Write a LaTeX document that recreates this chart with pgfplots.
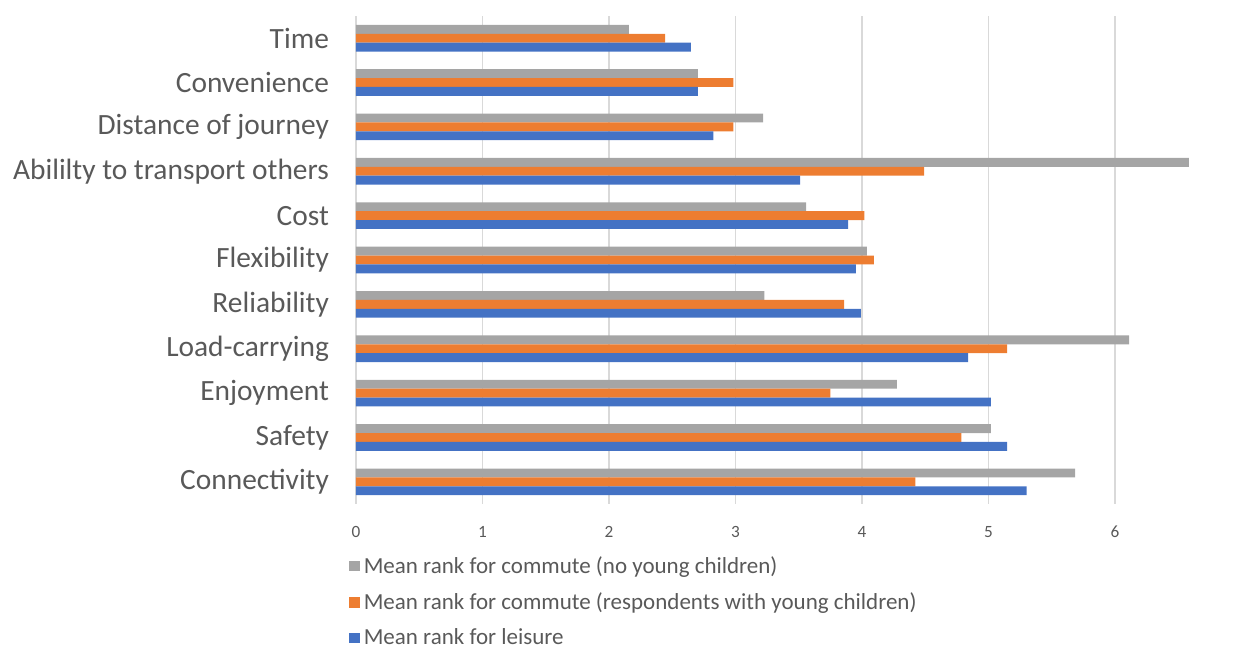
\documentclass[border=0pt]{standalone}
\usepackage{pgfplots}
\pgfplotsset{compat=1.18}
\usepackage{fontspec}
\setmainfont{Carlito}
\definecolor{cgray}{HTML}{A5A5A5}
\definecolor{corange}{HTML}{ED7D31}
\definecolor{cblue}{HTML}{4472C4}
\definecolor{cgrid}{HTML}{D9D9D9}
\definecolor{ctext}{HTML}{595959}
\begin{document}
\begin{tikzpicture}
\path[use as bounding box] (0,0) rectangle (618.5pt,325pt);
\begin{axis}[
  at={(178pt,73pt)}, anchor=south west,
  scale only axis,
  width=437pt, height=244pt,
  xbar, bar width=0.2,
  y dir=reverse,
  xmin=0, xmax=6.91,
  ymin=-0.5, ymax=10.5,
  xtick={0,1,2,3,4,5,6},
  ytick={0,...,10},
  yticklabels={Time,Convenience,Distance of journey,Abililty to transport others,Cost,Flexibility,Reliability,Load-carrying,Enjoyment,Safety,Connectivity},
  axis line style={draw=none},
  xmajorgrids, grid style={cgrid, line width=0.8pt},
  major tick length=0pt,
  tick style={draw=none},
  /pgf/number format/assume math mode=true,
  xticklabel style={font=\fontsize{8.6}{10}\selectfont, text=ctext, yshift=-7.5pt},
  yticklabel style={font=\fontsize{14.7}{17}\selectfont, text=ctext, xshift=-10pt},
  legend cell align=left,
  legend style={at={(axis description cs:-0.008,-0.098)}, anchor=north west, draw=none, fill=none,
    font=\fontsize{11.5}{13}\selectfont, text=ctext, row sep=4.2pt, inner sep=0pt,
    /tikz/every odd column/.style={inner xsep=0pt}, /tikz/every even column/.style={inner xsep=1.2pt}},
  legend image code/.code={\fill[#1] (0pt,-2.6pt) rectangle (5.2pt,2.6pt);},
]
\addplot[fill=cgray, draw=none, bar shift=-0.2] coordinates {
 (2.157,0) (2.702,1) (3.219,2) (6.585,3) (3.559,4) (4.039,5) (3.229,6) (6.113,7) (4.276,8) (5.019,9) (5.686,10)};
\addlegendentry{Mean rank for commute (no young children)}
\addplot[fill=corange, draw=none, bar shift=0] coordinates {
 (2.444,0) (2.984,1) (2.984,2) (4.492,3) (4.020,4) (4.094,5) (3.859,6) (5.148,7) (3.751,8) (4.787,9) (4.423,10)};
\addlegendentry{Mean rank for commute (respondents with young children)}
\addplot[fill=cblue, draw=none, bar shift=0.2] coordinates {
 (2.647,0) (2.702,1) (2.826,2) (3.511,3) (3.891,4) (3.952,5) (3.991,6) (4.840,7) (5.019,8) (5.148,9) (5.303,10)};
\addlegendentry{Mean rank for leisure}
\end{axis}
\end{tikzpicture}
\end{document}
